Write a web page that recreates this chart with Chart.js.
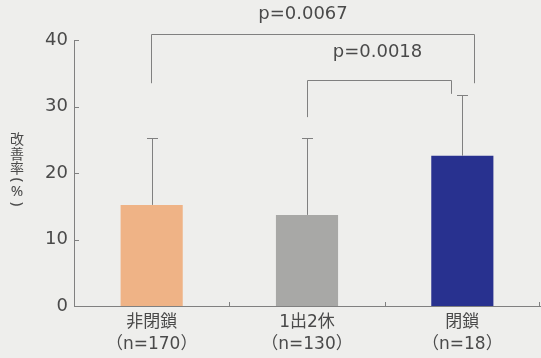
<!DOCTYPE html>
<html>
<head>
<meta charset="utf-8">
<script src="https://cdn.jsdelivr.net/npm/chart.js@4.4.0/dist/chart.umd.min.js"></script>
<style>
  html, body { margin: 0; padding: 0; background: #eeeeec; }
  #wrap { width: 541px; height: 358px; }
</style>
</head>
<body>
<div id="wrap"><canvas id="chart" width="541" height="358"></canvas></div>
<script>
// data
const categories = [['非閉鎖', '（n=170）'], ['1出2休', '（n=130）'], ['閉鎖', '（n=18）']];
const meanValues = [15.2, 13.7, 22.6];
const sdValues = [10.1, 11.6, 9.1];
const barColors = ['#efb386', '#a8a8a6', '#28318f'];
const yTicks = [0, 10, 20, 30, 40];
const yTitle = ['改', '善', '率', '(', '%', ')'];

// significance brackets: pairs of categories, p labels
const bracketPairs = [[0, 2], [1, 2]];
const bracketLabels = ['p=0.0067', 'p=0.0018'];
const bracketTop = [40.95, 34.0];
const bracketLeftEnd = [33.5, 28.4];
const bracketRightEnd = [33.5, 31.9];
const bracketLabelY = [43.9, 38.1];

const textColor = '#4a4a4a';
const lineColor = '#808080';
const cjkFont = '"Noto Sans CJK JP", "Noto Sans", sans-serif';
const numFont = '"DejaVu Sans", "Noto Sans CJK JP", sans-serif';

const bgPlugin = {
  id: 'bg',
  beforeDraw(chart) {
    const ctx = chart.ctx;
    ctx.save();
    ctx.fillStyle = '#eeeeec';
    ctx.fillRect(0, 0, chart.width, chart.height);
    ctx.restore();
  }
};

const extrasPlugin = {
  id: 'extras',
  afterDatasetsDraw(chart) {
    const ctx = chart.ctx;
    const x = chart.scales.x;
    const y = chart.scales.y;
    const area = chart.chartArea;
    ctx.save();
    ctx.strokeStyle = lineColor;
    ctx.lineWidth = 1;

    // error bars (upper side only)
    meanValues.forEach((m, i) => {
      const cx = Math.round(x.getPixelForValue(i)) + 0.5;
      const y0 = y.getPixelForValue(m);
      const y1 = Math.round(y.getPixelForValue(m + sdValues[i])) + 0.5;
      ctx.beginPath();
      ctx.moveTo(cx, y0);
      ctx.lineTo(cx, y1);
      ctx.moveTo(cx - 5.5, y1);
      ctx.lineTo(cx + 5.5, y1);
      ctx.stroke();
    });

    // inward ticks on the y axis
    yTicks.forEach(v => {
      const py = Math.round(y.getPixelForValue(v)) + 0.5;
      ctx.beginPath();
      ctx.moveTo(area.left, py);
      ctx.lineTo(area.left + 5, py);
      ctx.stroke();
    });

    // inward ticks between categories on the x axis
    for (let i = 0; i < categories.length; i++) {
      const px = Math.min(Math.round((x.getPixelForValue(i) + x.getPixelForValue(i + 1)) / 2), area.right - 1) + 0.5;
      ctx.beginPath();
      ctx.moveTo(px, area.bottom);
      ctx.lineTo(px, area.bottom - 4);
      ctx.stroke();
    }

    // brackets
    const offsets = [[-1, 12], [0, -11]];
    const labelShift = [-10, -2];
    bracketPairs.forEach((pair, i) => {
      const xl = Math.round(x.getPixelForValue(pair[0]) + offsets[i][0]) + 0.5;
      const xr = Math.round(x.getPixelForValue(pair[1]) + offsets[i][1]) + 0.5;
      const yt = Math.round(y.getPixelForValue(bracketTop[i])) + 0.5;
      ctx.beginPath();
      ctx.moveTo(xl, y.getPixelForValue(bracketLeftEnd[i]));
      ctx.lineTo(xl, yt);
      ctx.lineTo(xr, yt);
      ctx.lineTo(xr, y.getPixelForValue(bracketRightEnd[i]));
      ctx.stroke();
      ctx.fillStyle = textColor;
      ctx.font = '18px ' + numFont;
      ctx.textAlign = 'center';
      ctx.textBaseline = 'middle';
      ctx.fillText(bracketLabels[i], (xl + xr) / 2 + labelShift[i], y.getPixelForValue(bracketLabelY[i]));
    });

    // vertical y-axis title, stacked characters (parentheses turned for vertical writing)
    ctx.fillStyle = textColor;
    ctx.textAlign = 'center';
    ctx.textBaseline = 'middle';
    const titleY = [139, 154, 168, 180, 192, 204];
    yTitle.forEach((ch, i) => {
      ctx.save();
      ctx.translate(17, titleY[i]);
      if (ch === '(' || ch === ')') {
        ctx.rotate(Math.PI / 2);
        ctx.font = '15px "Noto Sans", sans-serif';
      } else if (ch === '%') {
        ctx.font = '15px "Noto Sans", sans-serif';
      } else {
        ctx.font = '14px ' + cjkFont;
      }
      ctx.fillText(ch, 0, 0);
      ctx.restore();
    });
    ctx.restore();
  }
};

new Chart(document.getElementById('chart'), {
  type: 'bar',
  data: {
    labels: categories,
    datasets: [{
      data: meanValues,
      backgroundColor: barColors,
      borderWidth: 0,
      barPercentage: 0.4,
      categoryPercentage: 1.0
    }]
  },
  options: {
    responsive: false,
    animation: false,
    layout: { padding: { top: 40, right: 1, left: 0, bottom: 0 } },
    plugins: {
      legend: { display: false },
      tooltip: { enabled: false }
    },
    scales: {
      x: {
        grid: { display: false, drawTicks: false },
        border: { color: lineColor, width: 1 },
        ticks: {
          color: textColor,
          font: { family: numFont, size: 17, lineHeight: 1.27 },
          padding: 6,
          maxRotation: 0
        },
        afterFit(scale) { scale.height = 52; }
      },
      y: {
        min: 0,
        max: 40,
        grid: { display: false, drawTicks: false },
        border: { color: lineColor, width: 1 },
        afterBuildTicks(scale) { scale.ticks = yTicks.map(v => ({ value: v })); },
        ticks: {
          color: textColor,
          font: { family: numFont, size: 18 },
          padding: 6
        },
        afterFit(scale) { scale.width = 74; }
      }
    }
  },
  plugins: [bgPlugin, extrasPlugin]
});
</script>
</body>
</html>
